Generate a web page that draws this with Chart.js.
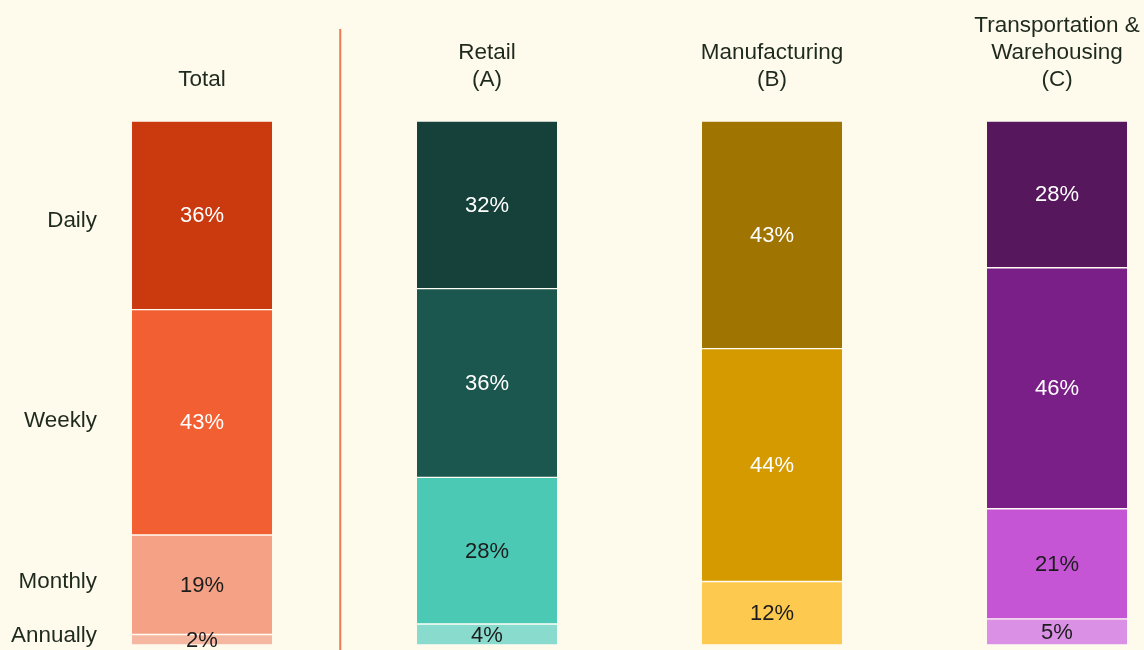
<!DOCTYPE html>
<html>
<head>
<meta charset="utf-8">
<script src="https://cdn.jsdelivr.net/npm/chart.js@4"></script>
<style>
  html, body { margin: 0; padding: 0; background: #fefaec; overflow: hidden; }
  #wrap { width: 1144px; height: 650px; position: relative; }
</style>
</head>
<body>
<div id="wrap"><canvas id="freqChart"></canvas></div>
<script>
// Share of respondents by frequency, per sector
const categories = [['Total'], ['Retail', '(A)'], ['Manufacturing', '(B)'], ['Transportation &', 'Warehousing', '(C)']];
const frequencies = ['Daily', 'Weekly', 'Monthly', 'Annually'];
const daily = [36, 32, 43, 28];
const weekly = [43, 36, 44, 46];
const monthly = [19, 28, 12, 21];
const annually = [2, 4, null, 5];
// where the row labels sit on the left (value on the 0-100 axis)
const rowLabelPos = [19, 57.3, 88, 98.2];

// one colour per bar per segment
const colors = {
    Daily: ['#cb3a0e', '#16413a', '#a07400', '#56175c'],
    Weekly: ['#f25f32', '#1b574e', '#d49a00', '#7a1f88'],
    Monthly: ['#f4a185', '#4cc9b5', '#fec94f', '#c655d6'],
    Annually: ['#f6b7a1', '#88dbcd', '#fec94f', '#da91e5']
};
const darkText = { Daily: false, Weekly: false, Monthly: true, Annually: true };

const series = [daily, weekly, monthly, annually];
// bars fill the full height, so scale each column by its own total (rounding)
const totals = categories.map((c, j) => series.reduce((s, arr) => s + (arr[j] || 0), 0));

const datasets = frequencies.map((f, i) => ({
    label: f,
    raw: series[i],
    data: series[i].map((v, j) => ({ x: j, y: v == null ? null : v / totals[j] * 100 })),
    backgroundColor: colors[f],
    borderColor: '#fffdf4',
    borderWidth: { top: 1, bottom: 1, left: 0, right: 0 },
    borderSkipped: false,
    barThickness: 140,
    stack: 's'
}));

// value labels in the middle of each segment
const segmentLabels = {
    id: 'segmentLabels',
    afterDatasetsDraw(chart) {
        const ctx = chart.ctx;
        ctx.save();
        ctx.font = '22px "Liberation Sans", Arial, sans-serif';
        ctx.textAlign = 'center';
        ctx.textBaseline = 'middle';
        chart.data.datasets.forEach((ds, i) => {
            const meta = chart.getDatasetMeta(i);
            meta.data.forEach((bar, j) => {
                const v = ds.raw[j];
                if (v == null) return;
                ctx.fillStyle = darkText[ds.label] ? '#1c1c1c' : '#ffffff';
                ctx.fillText(v + '%', bar.x, (bar.y + bar.base) / 2 + 1);
            });
        });
        ctx.restore();
    }
};

// orange divider between Total and the sectors
const divider = {
    id: 'divider',
    beforeDatasetsDraw(chart) {
        const ctx = chart.ctx;
        const x = chart.scales.x.getPixelForValue(0.485);
        ctx.save();
        ctx.strokeStyle = '#ee7a55';
        ctx.lineWidth = 2;
        ctx.beginPath();
        ctx.moveTo(x, 29);
        ctx.lineTo(x, chart.height);
        ctx.stroke();
        ctx.restore();
    }
};

Chart.defaults.font.family = '"Liberation Sans", Arial, sans-serif';
Chart.defaults.color = '#1f2a1f';

new Chart(document.getElementById('freqChart'), {
    type: 'bar',
    data: { datasets: datasets },
    options: {
        responsive: true,
        maintainAspectRatio: false,
        animation: false,
        layout: { padding: { top: 0, bottom: 5, left: 0, right: 0 } },
        plugins: {
            legend: { display: false },
            tooltip: { enabled: false }
        },
        scales: {
            x: {
                type: 'linear',
                position: 'top',
                offset: false,
                min: -0.3404,
                max: 3.3052,
                grid: { display: false, offset: false },
                border: { display: false },
                afterBuildTicks: (scale) => {
                    scale.ticks = categories.map((c, i) => ({ value: i }));
                },
                afterFit: (scale) => {
                    scale.height = 121;
                    scale.paddingLeft = 0;
                    scale.paddingRight = 0;
                },
                ticks: {
                    maxRotation: 0,
                    autoSkip: false,
                    padding: 20,
                    font: { size: 22.5, lineHeight: 1.2 },
                    callback: (v) => categories[v]
                }
            },
            y: {
                type: 'linear',
                reverse: true,
                stacked: true,
                min: 0,
                max: 100,
                grid: { display: false },
                border: { display: false },
                afterBuildTicks: (scale) => {
                    scale.ticks = rowLabelPos.map(v => ({ value: v }));
                },
                afterFit: (scale) => {
                    scale.width = 105;
                    scale.paddingTop = 0;
                    scale.paddingBottom = 0;
                },
                ticks: {
                    padding: 0,
                    autoSkip: false,
                    font: { size: 22.4 },
                    callback: (v, i) => frequencies[i]
                }
            }
        }
    },
    plugins: [segmentLabels, divider]
});
</script>
</body>
</html>
